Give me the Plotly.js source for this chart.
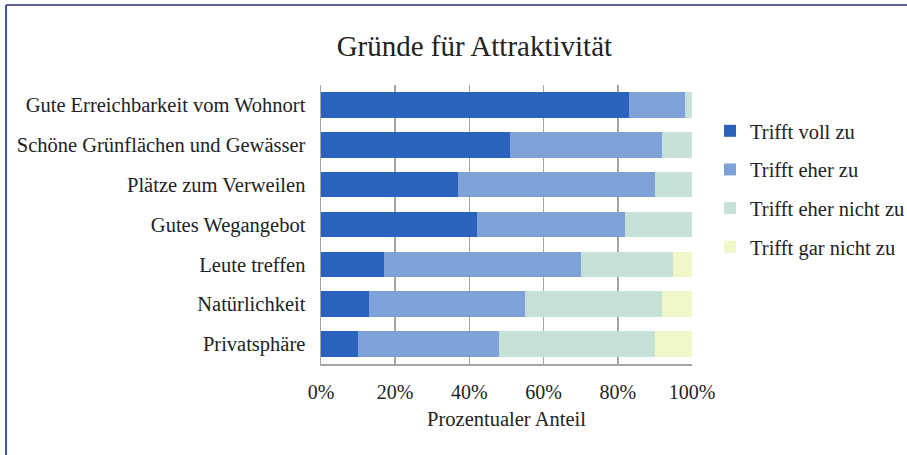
<!DOCTYPE html>
<html><head><meta charset="utf-8">
<script src="https://cdn.plot.ly/plotly-3.0.1.min.js"></script>
<style>html,body{margin:0;padding:0;background:#fff}#c{width:907px;height:455px}</style>
</head><body><div id="c"></div>
<script>
const categories = ["Gute Erreichbarkeit vom Wohnort","Schöne Grünflächen und Gewässer","Plätze zum Verweilen","Gutes Wegangebot","Leute treffen","Natürlichkeit","Privatsphäre"];
const seriesNames = ["Trifft voll zu","Trifft eher zu","Trifft eher nicht zu","Trifft gar nicht zu"];
const voll = [83, 51, 37, 42, 17, 13, 10];
const eher = [15, 41, 53, 40, 53, 42, 38];
const eherNicht = [2, 8, 10, 18, 25, 37, 42];
const garNicht = [0, 0, 0, 0, 5, 8, 10];
const tickVals = [0, 20, 40, 60, 80, 100];
const tickText = ["0%","20%","40%","60%","80%","100%"];
const colors = ["#2b62bd","#7ea2d8","#c6e2d7","#f1f7c6"];
const values = [voll, eher, eherNicht, garNicht];
const font = "Liberation Serif, Times New Roman, serif";
const traces = values.map((v,i)=>({
  type:"bar", orientation:"h", x:v, y:categories, name:seriesNames[i],
  marker:{color:colors[i], line:{width:0}}, legendgroup:"g"+i, hoverinfo:"none"
}));
const layout = {
  width:907, height:455, paper_bgcolor:"#fff", plot_bgcolor:"#fff",
  margin:{l:321, r:215, t:85, b:91, autoexpand:false},
  barmode:"stack", bargap:0.36,
  font:{family:font, size:20.5, color:"#222"},
  title:{text:"Gründe für Attraktivität", font:{family:font, size:29, color:"#222"}, x:0.523, xanchor:"center", y:0.9, yanchor:"middle"},
  xaxis:{range:[0,100], tickvals:tickVals, ticktext:tickText, showgrid:true, gridcolor:"#a3a3a8", gridwidth:1.5,
    showline:true, linecolor:"#a3a3a8", linewidth:1.5, zeroline:false, ticks:"outside", ticklen:9, tickcolor:"rgba(0,0,0,0)",
    tickfont:{size:20}, title:{text:"Prozentualer Anteil", font:{size:20.5}, standoff:10}},
  yaxis:{autorange:"reversed", showline:true, linecolor:"#a3a3a8", linewidth:1.5, showgrid:false, ticks:"outside", ticklen:10, tickcolor:"rgba(0,0,0,0)", tickfont:{size:20.5}},
  showlegend:true,
  legend:{xref:"container", yref:"container", x:710/907, xanchor:"left", y:1-111/455, yanchor:"top", font:{size:20.5}, traceorder:"grouped", tracegroupgap:9, itemwidth:30, bgcolor:"rgba(0,0,0,0)"},
  shapes:[
    {type:"line", xref:"paper", yref:"paper", x0:-0.849, x1:1.6, y0:1.287, y1:1.287, line:{color:"#5a609c", width:2}},
    {type:"line", xref:"paper", yref:"paper", x0:-0.849, x1:-0.849, y0:1.287, y1:-0.4, line:{color:"#3a56a8", width:2}}
  ]
};
Plotly.newPlot("c", traces, layout, {displayModeBar:false, staticPlot:true});
</script></body></html>
